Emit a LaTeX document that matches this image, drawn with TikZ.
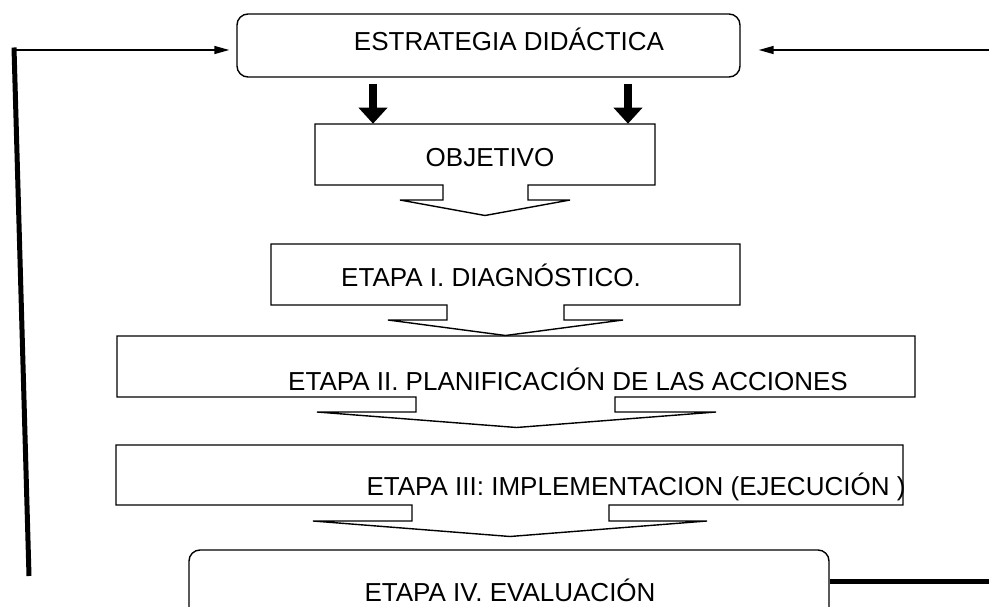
\documentclass[tikz,border=0pt]{standalone}
\usepackage{fontspec}
\setmainfont{Liberation Sans}
\usetikzlibrary{arrows.meta}

\tikzset{
    boxline/.style={line width=1.4pt, line join=miter},
    roundbox/.style={draw, boxline, rounded corners=11pt, inner sep=0pt},
    label/.style={anchor=base, inner sep=0pt, font=\fontsize{26}{30}\selectfont},
    bigarrow/.style={line width=8pt, -{Triangle[width=28pt,length=16pt]}},
    thinarrow/.style={line width=1.5pt, -{Triangle[width=8pt,length=15pt]}},
    feedback/.style={line width=5pt}
}

% box with a hollow arrow below it
\newcommand{\callbox}[9]{%
    \draw[boxline] (#5,#4) -- (#1,#4) -- (#1,#2) -- (#3,#2) -- (#3,#4) -- (#6,#4)
        -- (#6,#7) -- (#9,#7) -- ({(#8+#9)/2},#7+15.5) -- (#8,#7) -- (#5,#7) -- cycle;}

\begin{document}
\begin{tikzpicture}[x=1pt, y=-1pt]
            \useasboundingbox (0,0) rectangle (989,607);
            \fill[white] (0,0) rectangle (989,607);

            \begin{scope}
                \node[roundbox, minimum width=503pt, minimum height=63pt] (estr) at (488.5,45.5) {};
                \node[roundbox, minimum width=640pt, minimum height=75pt] (eval) at (509,587.5) {};
            \end{scope}

            \callbox{315}{124}{655}{185}{443}{528}{200}{400}{570}
            \callbox{271}{244}{740}{305}{447}{564}{320}{388}{623}
            \callbox{117}{336}{915}{397}{416}{615}{412}{317}{716}
            \callbox{116}{445}{903}{505}{412}{609}{521}{313}{707}

            \begin{scope}[every node/.style={label}]
                \node (testr) at (509,50.6) {ESTRATEGIA DIDÁCTICA};
                \node (tobj) at (490,166.6) {OBJETIVO};
                \node (tdiag) at (491,286.6) {ETAPA I. DIAGNÓSTICO.};
                \node (tplan) at (568,390.6) {ETAPA II. PLANIFICACIÓN DE LAS ACCIONES};
                \node (timpl) at (636,495.6) {ETAPA III: IMPLEMENTACION (EJECUCIÓN )};
                \node (teval) at (510,601.6) {ETAPA IV. EVALUACIÓN};
            \end{scope}

            \coordinate (ltop) at (14,50);
            \coordinate (lbot) at (29,576);
            \coordinate (rtop) at (989,50);
            \coordinate (rbot) at (989,581);

            \begin{scope}
                \draw[bigarrow] ([xshift=-115.5pt,yshift=-6pt]estr.south) -- ++(0,40);
                \draw[bigarrow] ([xshift=139.5pt,yshift=-6pt]estr.south) -- ++(0,40);
                \draw[feedback] (lbot) -- ([yshift=2.5pt]ltop);
                \draw[thinarrow, shorten >=7pt] (ltop) -- (ltop -| estr.west);
                \draw[thinarrow, shorten >=18pt] (rtop) -- (rtop -| estr.east);
                \draw[feedback] (rbot -| eval.east) -- (rbot);
            \end{scope}
\end{tikzpicture}
\end{document}
